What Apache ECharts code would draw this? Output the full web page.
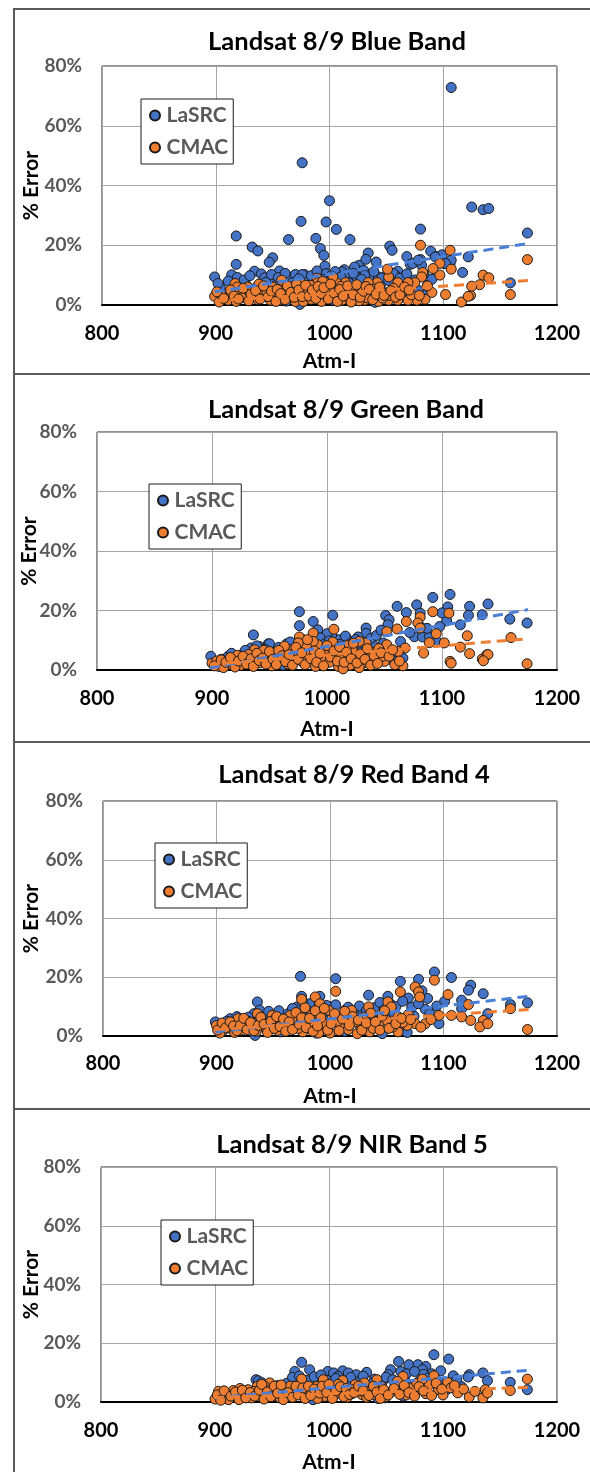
<!DOCTYPE html>
<html>
<head>
<meta charset="utf-8">
<script src="https://cdn.jsdelivr.net/npm/echarts@6/dist/echarts.min.js"></script>
<style>
  html, body { margin: 0; padding: 0; background: #fff; }
  #chart { width: 590px; height: 1472px; }
</style>
</head>
<body>
<div id="chart"></div>
<script>
// ---- data: [Atm-I, % error] ----
const lasrcBlue = [
  [1107,72.8],[976,47.6],[1000,34.9],[975,28.0],[997,27.8],[1006,25.3],[918,23.1],[964,21.9],[988,22.3],[1018,21.9],
  [1125,32.8],[1135,31.9],[1140,32.3],[1174,24.1],[1080,25.4],[932,19.4],[937,18.1],[992,18.9],[995,16.6],[1053,19.7],
  [1055,18.3],[1034,17.4],[1068,16.2],[1089,18.0],[1095,16.2],[1099,16.8],[1080,15.2],[1122,16.1],[950,15.8],[947,14.3],
  [918,13.6],[996,13.0],[1071,13.6],[1081,13.3],[1101,13.9],[1106,13.8],[1107,15.0],[1117,10.9],[1159,7.4],[899,9.4],
  [904,5.9],[914,10.1],[917,7.7],[934,11.3],[940,10.4],[956,11.4],[965,8.3],[971,9.6],[978,10.2],[1013,11.8],
  [1026,13.3],[1030,11.6],[1041,14.4],[1060,11.3],[1049,9.6],[1059,9.6],[1036,9.4],[1020,8.3],[943,9.1],[950,7.7],
  [960,8.3],[964,9.4],[970,10.2],[976,10.2],[992,10.0],[997,10.5],[1002,10.0],[1011,11.1],[1014,10.0],[1022,12.7],
  [1032,15.3],[1024,9.4],[1031,10.0],[1043,9.4],[1053,10.0],[1073,13.9],[1078,15.0],[1083,10.5],[1093,16.1],[1102,13.9],
  [1064,7.5],[1066,3.2],[1082,3.5],[1078,4.9],[974,0.2],[908,3.6],[922,5.2],[927,6.6],[946,5.4],[953,6.6],
  [958,4.6],[968,6.8],[982,5.6],[986,8.1],[990,4.4],[1004,6.6],[1008,8.6],[1016,5.2],[1027,6.4],[1038,5.0],
  [1045,7.0],[1050,4.1],[1057,6.2],[1070,5.8],[1086,6.6],[1003,1.6],[1019,2.2],[1040,0.9],[962,1.3],[1090,8.6],
  [902,7.2],[911,8.0],[919,9.2],[925,8.4],[930,9.8],[938,6.6],[944,7.6],[949,10.2],[955,9.2],[961,10.6],
  [967,7.4],[973,8.8],[980,7.6],[984,9.8],[989,11.4],[994,8.6],[999,6.4],[1005,11.2],[1010,9.4],[1017,7.4],
  [1021,10.6],[1028,8.6],[1034,7.2],[1039,11.2],[1046,9.0],[1052,8.2],[1056,10.6],[1062,9.0],[1068,10.4],[1075,8.4]
];
const cmacBlue = [
  [1080,20.0],[1106,18.3],[1107,12.0],[1097,13.9],[1097,10.0],[1082,10.9],[1081,9.4],[1091,12.2],[1135,10.0],[1140,9.1],
  [1132,6.8],[1124,3.2],[1116,1.0],[1102,3.5],[1090,4.2],[1084,1.9],[1077,1.6],[1069,1.6],[1060,1.6],[1052,1.6],
  [1052,3.2],[1075,7.5],[1069,7.5],[1060,7.5],[1052,9.4],[1051,12.0],[1042,7.5],[1034,7.5],[1046,4.4],[1036,3.2],
  [1025,3.2],[1019,5.5],[1014,7.5],[1006,7.5],[1003,9.4],[997,7.5],[989,9.0],[990,7.5],[983,6.6],[974,6.0],
  [967,6.0],[959,5.5],[950,6.0],[943,5.5],[936,6.0],[928,6.0],[921,4.9],[917,7.2],[899,2.9],[905,3.2],
  [911,1.6],[918,1.2],[926,3.2],[933,2.7],[940,3.2],[948,1.6],[956,1.6],[964,3.2],[970,1.2],[977,1.2],
  [986,3.2],[993,1.2],[1002,3.2],[1011,1.6],[1018,2.1],[1031,1.6],[1043,1.2],[958,8.3],[975,7.5],[994,7.9],
  [1008,4.4],[1174,15.2],[1159,3.5],[1125,6.3],[1122,2.9],[903,1.0],[914,3.8],[923,2.4],[930,4.4],[937,1.8],
  [945,4.0],[952,3.6],[962,4.6],[972,3.8],[980,4.4],[984,1.9],[997,4.6],[1000,5.8],[1005,2.2],[1015,3.8],
  [1022,4.6],[1028,5.6],[1033,2.4],[1040,5.4],[1047,2.3],[1056,5.6],[1064,4.8],[1072,3.4],[955,2.8],[991,5.4],
  [1010,6.2],[1026,1.4],[938,7.0],[919,6.0],
  [901,4.4],[907,2.2],[913,5.0],[916,3.0],[920,2.0],[924,5.6],[929,1.4],[931,3.6],[935,4.8],[939,2.0],
  [942,6.4],[946,2.8],[949,4.6],[953,1.2],[954,5.2],[957,3.8],[961,1.8],[963,6.4],[966,4.2],[969,2.6],
  [971,7.0],[973,5.0],[976,2.8],[979,6.6],[982,3.0],[985,5.0],[988,2.2],[990,6.2],[993,3.8],[995,5.8],
  [999,2.0],[1001,7.0],[1004,4.0],[1007,1.2],[1009,5.2],[1012,3.0],[1016,6.4],[1019,1.0],[1021,3.4],[1024,6.8],
  [1027,2.6],[1030,4.6],[1032,6.2],[1035,5.2],[1038,1.8],[1041,3.6],[1044,6.0],[1048,3.2],[1054,4.8],[1058,2.6],
  [1062,3.4],[1066,6.0],[1070,5.0],[1079,3.2],[1086,6.4]
];
const lasrcGreen = [
  [976,19.6],[976,14.9],[936,11.8],[988,16.3],[1005,18.4],[1051,18.3],[1054,16.9],[1053,15.2],[1061,21.4],[1069,19.3],
  [1078,21.9],[1081,19.1],[1092,24.4],[1107,25.4],[1105,21.2],[1104,16.5],[1124,21.4],[1123,18.4],[1116,15.2],[1135,18.6],
  [1140,22.2],[1159,17.1],[1174,15.8],[1076,11.2],[1083,11.1],[1089,11.2],[1096,9.4],[1081,14.6],[1034,14.1],[1034,12.3],
  [1027,11.1],[1018,10.2],[1010,10.2],[1004,11.8],[1000,12.2],[992,13.5],[949,8.8],[941,7.9],[965,8.8],[899,4.6],
  [914,4.6],[934,7.4],[939,8.1],[950,8.8],[1059,4.0],[1066,4.0],[1056,3.5],[1058,6.3],[905,2.2],[920,3.4],
  [926,5.2],[944,5.6],[955,6.2],[960,4.4],[970,6.0],[980,7.2],[985,4.6],[995,6.8],[1007,7.6],[1013,5.4],
  [1022,7.8],[1030,6.2],[1040,8.4],[1045,5.4],[1014,0.8],[996,2.0],[962,1.6],
  [908,3.6],[917,5.6],[923,4.0],[929,6.6],[946,7.0],[952,5.2],[958,7.6],[963,5.8],[968,9.4],[973,7.4],
  [978,10.4],[983,9.2],[987,6.8],[994,10.8],[998,8.8],[1002,9.8],[1011,8.6],[1016,11.4],[1020,8.8],[1025,10.2],
  [1033,8.6],[1038,10.6],[1043,11.6],[1049,9.0],[1047,13.4],[1064,9.6],[1072,12.6],[1087,14.0],[1098,14.6],[1100,19.2]
];
const cmacGreen = [
  [1092,19.6],[1106,19.1],[1081,17.8],[1069,16.3],[1079,15.8],[1081,14.1],[1061,13.8],[1006,13.7],[988,12.4],[976,11.1],
  [1122,11.5],[1095,12.2],[1089,9.2],[1102,9.1],[1116,7.7],[1124,5.5],[1052,12.9],[1052,8.5],[1068,7.4],[1084,5.7],
  [1062,6.2],[1107,2.9],[1135,3.7],[1139,5.1],[1066,1.4],[1059,1.8],[1050,2.9],[1040,3.5],[1042,6.2],[1034,9.1],
  [1022,6.8],[1016,5.1],[1010,1.2],[992,8.5],[988,9.6],[982,7.9],[975,9.1],[969,6.8],[955,5.7],[948,4.6],
  [937,6.8],[929,3.5],[922,4.9],[914,1.8],[906,1.2],[900,2.3],[1160,10.9],[1140,5.2],[1136,3.1],[1174,2.1],
  [1108,2.3],[904,3.0],[910,0.8],[918,2.8],[925,1.6],[932,5.2],[942,2.4],[945,6.6],[952,1.4],[959,3.4],
  [963,8.0],[966,2.0],[972,4.6],[979,2.6],[985,5.4],[990,1.2],[996,4.2],[999,7.0],[1002,2.6],[1005,9.4],
  [1008,5.4],[1012,3.4],[1018,8.2],[1020,1.6],[1025,4.2],[1028,9.6],[1031,2.2],[1036,5.6],[1045,7.2],[1048,4.6],
  [1028,0.8],[1014,0.4],
  [902,1.4],[908,3.4],[912,2.6],[916,4.2],[920,1.0],[923,3.0],[927,4.6],[930,2.0],[934,3.8],[936,1.2],
  [939,5.6],[941,3.2],[944,4.0],[947,2.0],[950,6.2],[953,3.6],[956,1.8],[958,6.6],[961,4.8],[964,2.8],
  [967,5.2],[970,1.6],[973,7.6],[975,3.6],[978,5.8],[981,1.8],[983,10.2],[986,3.8],[989,6.4],[991,2.6],
  [994,5.6],[997,1.4],[1000,8.2],[1003,4.4],[1006,6.4],[1009,3.0],[1011,7.8],[1015,2.6],[1017,6.0],[1021,3.8],
  [1023,9.0],[1026,2.4],[1029,5.4],[1033,3.6],[1035,7.2],[1038,1.6],[1041,4.8],[1044,2.2],[1047,5.8],[1054,4.6],
  [1057,6.8],[1063,3.0]
];
const lasrcRed = [
  [974,20.3],[1005,19.5],[1092,21.8],[1107,19.9],[1078,19.3],[1062,18.6],[1124,17.3],[1122,15.6],[1135,14.4],[1069,12.9],
  [1034,13.9],[1051,13.5],[975,13.5],[991,13.5],[936,11.6],[1101,11.8],[1116,12.2],[1084,9.1],[1096,4.2],[1068,1.2],
  [971,9.9],[963,7.6],[948,7.0],[899,4.8],[912,5.9],[907,3.6],[934,0.2],[1002,9.9],[997,10.4],[1013,8.7],
  [1024,8.7],[1046,0.8],[982,11.0],[933,7.6],[1051,7.0],[1116,9.3],[1139,7.6],[1174,11.3],[1159,10.7],[1081,15.4],
  [916,3.2],[922,4.6],[928,6.4],[940,5.4],[944,2.4],[952,4.4],[957,6.2],[966,3.8],[978,6.8],[986,4.2],
  [993,7.4],[1009,5.2],[1018,6.0],[1029,4.4],[1037,7.2],[1042,5.0],[1056,8.2],[1060,3.4],[1074,6.8],[1088,7.6],
  [1013,1.6],[988,1.0],[956,1.4],
  [903,2.4],[909,5.0],[918,6.6],[925,5.6],[931,4.4],[938,8.8],[942,6.6],[946,8.4],[951,6.0],[955,8.6],
  [960,5.4],[967,9.4],[972,6.4],[976,11.4],[980,8.8],[984,6.2],[990,9.4],[995,8.2],[1000,7.0],[1005,10.6],
  [1011,7.0],[1016,9.8],[1021,7.4],[1026,10.2],[1032,8.6],[1039,9.6],[1044,11.4],[1048,9.0],[1053,11.0],[1058,10.0],
  [1064,11.8],[1072,9.8],[1078,11.0],[1086,12.8],[1094,10.2]
];
const cmacRed = [
  [1092,19.0],[1075,16.7],[1078,15.0],[1062,15.0],[1079,13.3],[1005,15.2],[975,12.5],[987,13.3],[991,11.0],[1104,14.1],
  [1051,11.6],[1054,9.9],[1034,9.9],[1019,8.7],[936,7.6],[949,7.0],[1122,10.7],[1107,7.0],[1116,6.5],[1124,5.3],
  [1135,5.3],[1132,3.1],[1139,4.2],[1096,7.0],[1084,4.2],[1075,4.2],[1068,3.6],[1060,1.4],[1069,7.3],[1060,6.5],
  [1050,5.3],[1043,3.6],[1035,1.4],[1027,3.1],[1010,3.1],[1002,6.5],[999,8.7],[1006,4.8],[994,2.5],[988,5.3],
  [981,4.2],[976,1.4],[969,5.9],[962,3.6],[954,1.9],[947,3.6],[940,5.3],[932,3.1],[925,4.2],[919,5.9],
  [913,2.5],[906,1.9],[900,3.6],[1159,9.3],[1174,2.2],[978,9.6],[1014,5.6],[903,1.0],[910,3.8],[916,1.2],
  [922,2.0],[928,5.0],[935,1.6],[944,2.4],[951,5.4],[958,4.4],[965,7.0],[972,2.6],[984,7.2],[990,1.0],
  [996,4.0],[1016,2.2],[1022,4.8],[1030,6.4],[1038,2.6],[1046,6.8],[1055,3.0],[1064,4.6],[1089,5.6],[1000,1.0],
  [1024,0.8],
  [901,2.0],[905,4.4],[908,2.8],[912,4.8],[915,3.4],[918,1.8],[921,3.6],[924,6.0],[927,2.2],[930,4.6],
  [933,1.8],[937,3.6],[939,6.4],[942,4.0],[945,1.2],[948,5.0],[951,2.6],[953,6.6],[956,3.2],[959,5.8],
  [961,1.6],[964,4.8],[967,2.2],[970,8.0],[973,4.0],[975,6.2],[979,2.8],[982,6.0],[985,1.6],[987,8.6],
  [989,3.4],[992,6.2],[995,9.4],[998,2.0],[1001,4.2],[1004,7.6],[1008,1.8],[1011,5.8],[1013,8.4],[1017,3.6],
  [1020,6.6],[1025,5.4],[1028,2.0],[1032,4.4],[1036,7.8],[1040,4.8],[1044,2.0],[1048,8.6],[1052,2.6],[1058,4.2],
  [1063,6.0],[1071,5.6],[1080,3.0]
];
const lasrcNir = [
  [1092,16.1],[1105,14.6],[1061,13.8],[976,13.5],[1070,12.7],[1078,12.7],[1085,12.1],[1082,11.0],[1054,11.0],[1052,9.3],
  [970,10.4],[983,11.0],[999,10.4],[1004,9.9],[1012,10.6],[1017,9.9],[1024,9.3],[1033,10.1],[1008,8.7],[936,7.6],
  [1123,9.3],[1122,8.5],[1109,8.9],[1135,9.9],[1139,7.3],[1116,5.3],[1103,4.2],[972,5.3],[961,5.3],[1049,1.4],
  [986,0.8],[1159,6.7],[1174,4.2],[938,7.2],[1090,9.6],[905,1.6],[914,2.6],[924,3.4],[930,1.8],[945,4.4],
  [952,2.2],[958,3.8],[966,2.4],[979,4.6],[990,6.2],[995,3.2],[1002,6.8],[1015,6.0],[1020,2.8],[1028,7.0],
  [1036,4.2],[1040,7.8],[1045,5.0],[1058,6.2],[1066,8.0],[1073,5.6],[1080,7.4],[1096,6.8],[1043,1.2],[1065,2.0],
  [911,1.0],[918,2.2],[927,2.8],[933,3.6],[941,6.6],[948,2.8],[955,5.6],[963,6.4],[968,8.4],[974,8.8],
  [980,7.4],[987,8.6],[993,9.2],[998,7.4],[1006,8.0],[1010,6.4],[1019,8.4],[1026,6.8],[1030,8.8],[1038,6.4],
  [1047,7.0],[1050,8.4],[1056,7.6],[1063,10.4],[1068,9.6],[1075,10.4],[1083,9.4],[1087,8.2],[1098,10.6],[1112,7.6]
];
const cmacNir = [
  [976,7.8],[995,7.6],[1012,7.3],[1065,8.7],[1042,7.6],[1031,6.5],[1023,5.9],[989,5.3],[970,3.6],[961,4.2],
  [953,3.1],[948,6.5],[944,5.3],[937,5.3],[929,4.2],[920,1.9],[916,3.9],[903,3.6],[906,1.4],[932,1.4],
  [957,1.4],[980,2.5],[996,1.9],[1002,4.8],[1011,3.1],[1020,4.2],[1029,2.5],[1037,4.2],[1046,5.3],[1055,3.6],
  [1064,4.2],[1072,4.8],[1081,4.2],[1088,5.9],[1092,8.9],[1096,4.2],[1104,6.7],[1107,4.8],[1113,3.1],[1123,1.7],
  [1137,4.2],[1135,1.4],[1139,3.1],[1159,3.9],[1174,7.8],[900,1.0],[910,2.8],[912,0.8],[922,4.6],[925,2.6],
  [934,3.6],[940,2.2],[950,4.6],[962,2.2],[966,5.4],[974,4.6],[985,3.6],[990,1.2],[1005,2.4],[1008,6.0],
  [1016,1.6],[1025,3.6],[1033,1.6],[1040,2.6],[1050,1.8],[1058,5.6],[1068,2.4],[1077,6.4],[1085,2.8],[1100,2.4],
  [1118,4.4],[1128,3.6],[1060,7.0],[1082,7.8],
  [902,2.4],[905,0.6],[908,3.8],[914,2.0],[918,3.4],[921,0.8],[924,4.0],[927,1.4],[931,3.2],[935,2.0],
  [939,4.0],[941,6.0],[943,1.0],[946,3.4],[949,1.8],[952,5.4],[955,3.0],[958,5.8],[960,0.8],[964,3.2],
  [968,1.6],[971,5.4],[973,2.4],[977,4.8],[979,1.2],[982,5.4],[984,2.2],[987,4.4],[992,3.0],[994,5.4],
  [998,3.2],[1000,6.0],[1003,1.2],[1006,3.8],[1010,5.2],[1013,1.8],[1015,4.6],[1018,2.6],[1022,3.2],[1026,5.4],
  [1030,3.8],[1035,2.2],[1039,5.4],[1042,3.4],[1045,1.2],[1048,4.2],[1052,2.4],[1057,4.6],[1062,2.6],[1066,5.6],
  [1070,3.2],[1075,2.0],[1079,5.2],[1083,3.8],[1090,2.2],[1094,6.4],[1099,4.4],[1110,5.6]
];

// linear trend lines as drawn in the source (start / end points)
const trendLasrcBlue = [[899, 4.4], [1175, 20.6]];
const trendCmacBlue = [[899, 1.3], [1175, 8.2]];
const trendLasrcGreen = [[898, 0.7], [1175, 20.3]];
const trendCmacGreen = [[898, 1.8], [1175, 10.5]];
const trendLasrcRed = [[899, 1.4], [1175, 13.5]];
const trendCmacRed = [[899, 2.2], [1175, 9.0]];
const trendLasrcNir = [[899, 1.4], [1175, 10.8]];
const trendCmacNir = [[899, 1.5], [1175, 5.0]];

const titles = ['Landsat 8/9 Blue Band', 'Landsat 8/9 Green Band', 'Landsat 8/9 Red Band 4', 'Landsat 8/9 NIR Band 5'];
const seriesNames = ['LaSRC', 'CMAC'];
const xTicks = { min: 800, max: 1200, step: 100 };
const yTicks = { min: 0, max: 80, step: 20 };

const panels = [
  { lasrc: lasrcBlue, cmac: cmacBlue, tl: trendLasrcBlue, tc: trendCmacBlue },
  { lasrc: lasrcGreen, cmac: cmacGreen, tl: trendLasrcGreen, tc: trendCmacGreen },
  { lasrc: lasrcRed, cmac: cmacRed, tl: trendLasrcRed, tc: trendCmacRed },
  { lasrc: lasrcNir, cmac: cmacNir, tl: trendLasrcNir, tc: trendCmacNir }
];

// ---- layout of each panel (pixels) ----
const layouts = [
  { grid: { left: 102, top: 66, width: 455, height: 239 }, title: [337, 42], legend: [141, 99], xGap: 46, yGap: 60, margin: 19 },
  { grid: { left: 97, top: 432, width: 460, height: 238 }, title: [346, 410], legend: [149, 484], xGap: 49, yGap: 57, margin: 19 },
  { grid: { left: 103, top: 801, width: 454, height: 235 }, title: [354, 775], legend: [155, 843], xGap: 50, yGap: 61, margin: 18 },
  { grid: { left: 101, top: 1167, width: 456, height: 235 }, title: [352, 1145], legend: [161, 1220], xGap: 50, yGap: 59, margin: 19 }
];
const frameRows = [9, 374, 742, 1109];

const BLUE = '#4472C4';
const ORANGE = '#ED7D31';
const FONT = 'Lato';

const chart = echarts.init(document.getElementById('chart'), null, { renderer: 'canvas' });

const grid = [], xAxis = [], yAxis = [], title = [], legend = [], series = [];

layouts.forEach((L, i) => {
  grid.push(Object.assign({
    show: true, borderColor: '#262626', borderWidth: 1, backgroundColor: '#fff', outerBoundsMode: 'none'
  }, L.grid));
  title.push({
    text: titles[i], left: L.title[0], top: L.title[1], textAlign: 'center', textVerticalAlign: 'middle', padding: 0,
    textStyle: { fontFamily: FONT, fontWeight: 'bold', fontSize: 25.5, color: '#000' }
  });
  xAxis.push({
    type: 'value', gridIndex: i, min: xTicks.min, max: xTicks.max, interval: xTicks.step,
    name: 'Atm-I', nameLocation: 'middle', nameGap: L.xGap, nameMoveOverlap: false,
    nameTextStyle: { fontFamily: FONT, fontWeight: 'bold', fontSize: 21, color: '#000' },
    axisLine: { show: true, onZero: false, lineStyle: { color: '#000', width: 2 } },
    axisTick: { show: false },
    axisLabel: { margin: L.margin, fontFamily: FONT, fontWeight: 'bold', fontSize: 20, color: '#000', formatter: v => String(v) },
    splitLine: { show: true, lineStyle: { color: '#a6a6a6', width: 1 } }
  });
  yAxis.push({
    type: 'value', gridIndex: i, min: yTicks.min, max: yTicks.max, interval: yTicks.step,
    name: '% Error', nameLocation: 'middle', nameGap: L.yGap, nameMoveOverlap: false,
    nameTextStyle: { fontFamily: FONT, fontWeight: 'bold', fontSize: 21, color: '#000' },
    axisLine: { show: false }, axisTick: { show: false },
    axisLabel: { margin: 20, fontFamily: FONT, fontWeight: 'bold', fontSize: 19, color: '#595959', formatter: '{value}%' },
    splitLine: { show: true, lineStyle: { color: '#a6a6a6', width: 1 } }
  });
  legend.push({
    data: seriesNames, orient: 'vertical', left: L.legend[0], top: L.legend[1],
    padding: [6, 5, 6, 8], itemGap: 11, itemWidth: 13, itemHeight: 10, icon: 'circle',
    backgroundColor: '#fff', borderColor: '#1a1a1a', borderWidth: 1, selectedMode: false,
    textStyle: { fontFamily: FONT, fontWeight: 'bold', fontSize: 21, lineHeight: 20, color: '#595959' }
  });

  const p = panels[i];
  const dot = (name, data, color) => ({
    name, type: 'scatter', xAxisIndex: i, yAxisIndex: i, data, symbolSize: 10, z: 3,
    itemStyle: { color, borderColor: '#1a1a1a', borderWidth: 1, opacity: 1 }
  });
  const trend = (name, data, color) => ({
    name, type: 'line', xAxisIndex: i, yAxisIndex: i, data, symbol: 'none', z: 5, silent: true,
    lineStyle: { color, width: 3, type: [10, 6] }
  });
  series.push(dot('LaSRC', p.lasrc, BLUE));
  series.push(dot('CMAC', p.cmac, ORANGE));
  series.push(trend('LaSRC trend', p.tl, '#4a7fd8'));
  series.push(trend('CMAC trend', p.tc, ORANGE));
});

// panel frames
const graphic = [];
graphic.push({ type: 'line', shape: { x1: 14, y1: 8, x2: 14, y2: 1472 }, style: { stroke: '#595959', lineWidth: 2 } });
frameRows.forEach(y => {
  graphic.push({ type: 'line', shape: { x1: 13, y1: y, x2: 590, y2: y }, style: { stroke: '#595959', lineWidth: 2 } });
});

chart.setOption({
  animation: false,
  backgroundColor: '#fff',
  title, grid, xAxis, yAxis, legend, series, graphic
});
</script>
</body>
</html>
